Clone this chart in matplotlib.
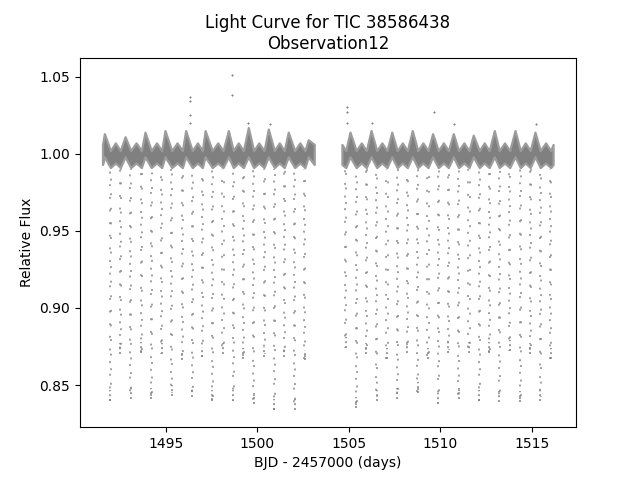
import matplotlib
matplotlib.use("Agg")
import matplotlib.pyplot as plt
import numpy as np

# eclipse times (BJD - 2457000) and the lowest flux seen in each one
prim_t = [1491.98, 1493.09, 1494.21, 1495.33, 1496.45, 1497.54, 1498.69, 1499.80,
          1500.93, 1502.04, 1505.40, 1506.52, 1507.64, 1508.76, 1509.88, 1510.99,
          1512.12, 1513.21, 1514.36, 1515.45]
prim_min = [0.840, 0.841, 0.841, 0.843, 0.842, 0.840, 0.840, 0.838, 0.834, 0.834,
            0.835, 0.840, 0.841, 0.845, 0.838, 0.841, 0.840, 0.839, 0.839, 0.840]
sec_t = [1492.52, 1493.67, 1494.78, 1495.91, 1497.00, 1498.13, 1499.24, 1500.37,
         1501.47, 1502.60, 1504.83, 1505.95, 1507.08, 1508.19, 1509.32, 1510.43,
         1511.56, 1512.66, 1513.78, 1514.90, 1516.02]
sec_min = [0.870, 0.871, 0.870, 0.866, 0.868, 0.870, 0.867, 0.868, 0.868, 0.866,
           0.874, 0.870, 0.867, 0.871, 0.867, 0.871, 0.871, 0.871, 0.872, 0.870, 0.867]

# out-of-eclipse band: maxima between secondary and primary
peak_t = [1491.65, 1492.78, 1493.87, 1494.96, 1496.09, 1497.15, 1498.42, 1499.51,
          1500.60, 1501.69, 1502.78,
          1505.06, 1506.21, 1507.34, 1508.46, 1509.57, 1510.70, 1511.79, 1512.94,
          1514.07, 1515.16]
peak_hi = [1.013, 1.011, 1.014, 1.015, 1.015, 1.015, 1.015, 1.017, 1.016, 1.014, 1.009,
           1.014, 1.015, 1.014, 1.015, 1.013, 1.013, 1.012, 1.015, 1.015, 1.014]
# smaller bumps between primary and secondary
bump_t = [1492.25, 1493.38, 1494.50, 1495.62, 1496.73, 1497.84, 1498.96, 1500.08,
          1501.20, 1502.32,
          1505.68, 1506.80, 1507.92, 1509.04, 1510.16, 1511.28, 1512.39, 1513.50,
          1514.63, 1515.74]
# edges of each observing orbit
seg_start = [1491.55, 1504.62]
seg_end = [1503.11, 1516.15]

# band levels
peak_lo = 0.998
bump_hi, bump_lo = 1.007, 0.994
ecl_hi, ecl_lo = 1.002, 0.991
edge_hi, edge_lo = 1.006, 0.993

# a few stray high points
out_t = [1498.64, 1498.64, 1496.33, 1496.33, 1496.33, 1496.33, 1499.51, 1500.69,
         1504.91, 1504.91, 1504.91, 1509.66, 1506.28, 1515.21, 1510.75]
out_f = [1.051, 1.038, 1.037, 1.034, 1.025, 1.020, 1.020, 1.019,
         1.030, 1.027, 1.020, 1.027, 1.020, 1.019, 1.019]

col = "gray"

# assemble band knots
knots = []
for t, h in zip(peak_t, peak_hi):
    knots.append((t, h, peak_lo))
for t in bump_t:
    knots.append((t, bump_hi, bump_lo))
for t in prim_t + sec_t:
    knots.append((t, ecl_hi, ecl_lo))
for t in seg_start + seg_end:
    knots.append((t, edge_hi, edge_lo))
knots.sort()

fig, ax = plt.subplots(figsize=(6.4, 4.8), dpi=100)

for a, b in zip(seg_start, seg_end):
    k = [p for p in knots if a <= p[0] <= b]
    kt = [p[0] for p in k]
    ax.fill_between(kt, [p[2] for p in k], [p[1] for p in k], color=col,
                    linewidth=1.6, edgecolor="#9c9c9c", joinstyle="round")

ecl_t = np.array(prim_t + sec_t)
ecl_min = np.array(prim_min + sec_min)
# stagger dash phases so the dots don't line up in rows
offs = [0.0, 2.5, 5.0, 1.2, 3.7, 6.0, 0.6, 4.3]
ls_a = [(offs[i % 8], (1.0, 5.5)) for i in range(len(ecl_t))]
ls_b = [(offs[(i + 3) % 8], (1.0, 6.5)) for i in range(len(ecl_t))]
ax.vlines(ecl_t - 0.03, ecl_min, 0.990, colors="#8a8a8a", linewidth=1.4,
          linestyles=ls_a, alpha=0.8)
ax.vlines(ecl_t + 0.03, ecl_min + 0.002, 0.990, colors="#8a8a8a", linewidth=1.4,
          linestyles=ls_b, alpha=0.8)
ax.vlines(ecl_t, ecl_min, ecl_min + 0.007, colors=col, linewidth=1.4,
          linestyles=(0, (1.0, 1.5)), alpha=0.8)
ax.scatter(out_t, out_f, s=3, marker="+", linewidths=0.8, color=col)

ax.set_xlim(1490.32, 1517.40)
ax.set_ylim(0.8227, 1.0623)
ax.set_xticks([1495, 1500, 1505, 1510, 1515])
ax.set_yticks([0.85, 0.90, 0.95, 1.00, 1.05])
ax.set_xlabel("BJD - 2457000 (days)")
ax.set_ylabel("Relative Flux")
ax.set_title("Light Curve for TIC 38586438\nObservation12")

plt.savefig("out.png", dpi=100)
